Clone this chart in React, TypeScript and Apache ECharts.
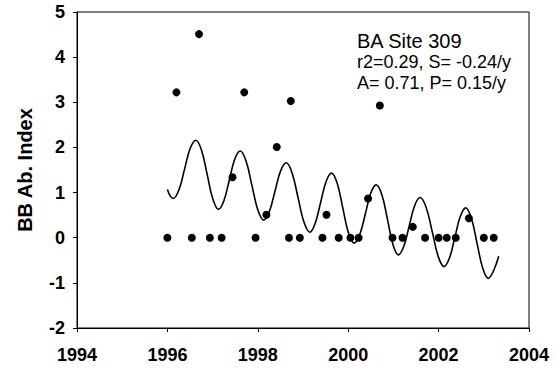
import React, { useEffect, useRef } from "react";
import * as echarts from "echarts";

const xTicks = [1994, 1996, 1998, 2000, 2002, 2004];
const yTicks = [-2, -1, 0, 1, 2, 3, 4, 5];

const obsYears = [
  1996.0, 1996.2, 1996.54, 1996.7, 1996.94, 1997.2, 1997.44, 1997.7, 1997.95, 1998.19,
  1998.42, 1998.69, 1998.73, 1998.93, 1999.43, 1999.52, 1999.79, 2000.05, 2000.23, 2000.44,
  2000.7, 2000.98, 2001.2, 2001.43, 2001.7, 2002.0, 2002.18, 2002.38, 2002.67, 2003.0, 2003.22,
];
const obsValues = [
  0, 3.22, 0, 4.51, 0, 0, 1.34, 3.22, 0, 0.51,
  2.01, 0, 3.03, 0, 0, 0.51, 0, 0, 0, 0.87,
  2.93, 0, 0, 0.24, 0, 0, 0, 0, 0.43, 0, 0,
];

const fitYears = [
  1996.0, 1996.065, 1996.13, 1996.255, 1996.38, 1996.505, 1996.63, 1996.755, 1996.88, 1997.005,
  1997.13, 1997.25, 1997.37, 1997.49, 1997.61, 1997.74, 1997.87, 1998.0, 1998.13, 1998.255,
  1998.38, 1998.505, 1998.63, 1998.76, 1998.89, 1999.02, 1999.15, 1999.27, 1999.39, 1999.51,
  1999.63, 1999.755, 1999.88, 2000.005, 2000.13, 2000.255, 2000.38, 2000.5, 2000.62, 2000.745,
  2000.87, 2000.99, 2001.11, 2001.23, 2001.35, 2001.47, 2001.59, 2001.725, 2001.86, 2001.99,
  2002.12, 2002.24, 2002.36, 2002.48, 2002.6, 2002.725, 2002.85, 2002.975, 2003.1, 2003.22,
  2003.33,
];
const fitValues = [
  1.07, 0.92, 0.87, 1.06, 1.52, 1.98, 2.16, 1.94, 1.4, 0.86,
  0.63, 0.82, 1.28, 1.74, 1.92, 1.7, 1.16, 0.62, 0.39, 0.58,
  1.03, 1.48, 1.66, 1.43, 0.89, 0.35, 0.12, 0.32, 0.78, 1.24,
  1.43, 1.21, 0.66, 0.11, -0.12, 0.07, 0.53, 0.99, 1.17, 0.95,
  0.4, -0.15, -0.38, -0.19, 0.26, 0.71, 0.89, 0.67, 0.13, -0.41,
  -0.64, -0.45, 0.01, 0.47, 0.66, 0.43, -0.12, -0.67, -0.9, -0.72,
  -0.41,
];

const siteLabel = "BA Site 309";
const statLine1 = "r2=0.29, S= -0.24/y";
const statLine2 = "A= 0.71, P= 0.15/y";
const yName = "BB Ab. Index";

const FONT = "'Liberation Sans', Arial, Helvetica, sans-serif";

export default function App() {
  const ref = useRef<HTMLDivElement>(null);
  useEffect(() => {
    document.body.style.margin = "0";
    if (!ref.current) return;
    const chart = echarts.init(ref.current, null, { renderer: "svg" });
    const axisLabel = {
      color: "#000",
      fontFamily: FONT,
      fontWeight: "bold" as const,
      fontSize: 18,
      formatter: (v: number) => String(v),
    };
    chart.setOption({
      animation: false,
      backgroundColor: "#fff",
      grid: {
        left: 77,
        right: 27,
        top: 12,
        bottom: 42,
        show: true,
        borderColor: "#000",
        borderWidth: 1,
        backgroundColor: "transparent",
      },
      xAxis: {
        type: "value",
        min: xTicks[0],
        max: xTicks[xTicks.length - 1],
        interval: 2,
        axisLine: { show: true, onZero: false, lineStyle: { color: "#000", width: 1 } },
        axisTick: { show: true, length: 4, lineStyle: { color: "#000" } },
        splitLine: { show: false },
        axisLabel: { ...axisLabel, margin: 18 },
      },
      yAxis: {
        type: "value",
        min: yTicks[0],
        max: yTicks[yTicks.length - 1],
        interval: 1,
        name: yName,
        nameLocation: "middle",
        nameGap: 42,
        nameTextStyle: {
          color: "#000",
          fontFamily: FONT,
          fontWeight: "bold",
          fontSize: 20,
        },
        axisLine: { show: true, onZero: false, lineStyle: { color: "#000", width: 1 } },
        axisTick: { show: true, length: 4, lineStyle: { color: "#000" } },
        splitLine: { show: false },
        axisLabel: { ...axisLabel, margin: 12 },
      },
      series: [
        {
          type: "line",
          data: fitYears.map((x, i) => [x, fitValues[i]]),
          smooth: 0.4,
          showSymbol: false,
          symbol: "none",
          lineStyle: { color: "#000", width: 1.6 },
          z: 2,
        },
        {
          type: "scatter",
          data: obsYears.map((x, i) => [x, obsValues[i]]),
          symbol: "circle",
          symbolSize: 8,
          itemStyle: { color: "#000", opacity: 1 },
          z: 3,
        },
      ],
      graphic: [
        {
          type: "text",
          left: 357,
          top: 31,
          style: { text: siteLabel, fill: "#000", font: `20px ${FONT}` },
        },
        {
          type: "text",
          left: 357,
          top: 53,
          style: { text: statLine1, fill: "#000", font: `18px ${FONT}` },
        },
        {
          type: "text",
          left: 357,
          top: 74,
          style: { text: statLine2, fill: "#000", font: `18px ${FONT}` },
        },
      ],
    });
    return () => chart.dispose();
  }, []);
  return <div ref={ref} style={{ width: 556, height: 370 }} />;
}
